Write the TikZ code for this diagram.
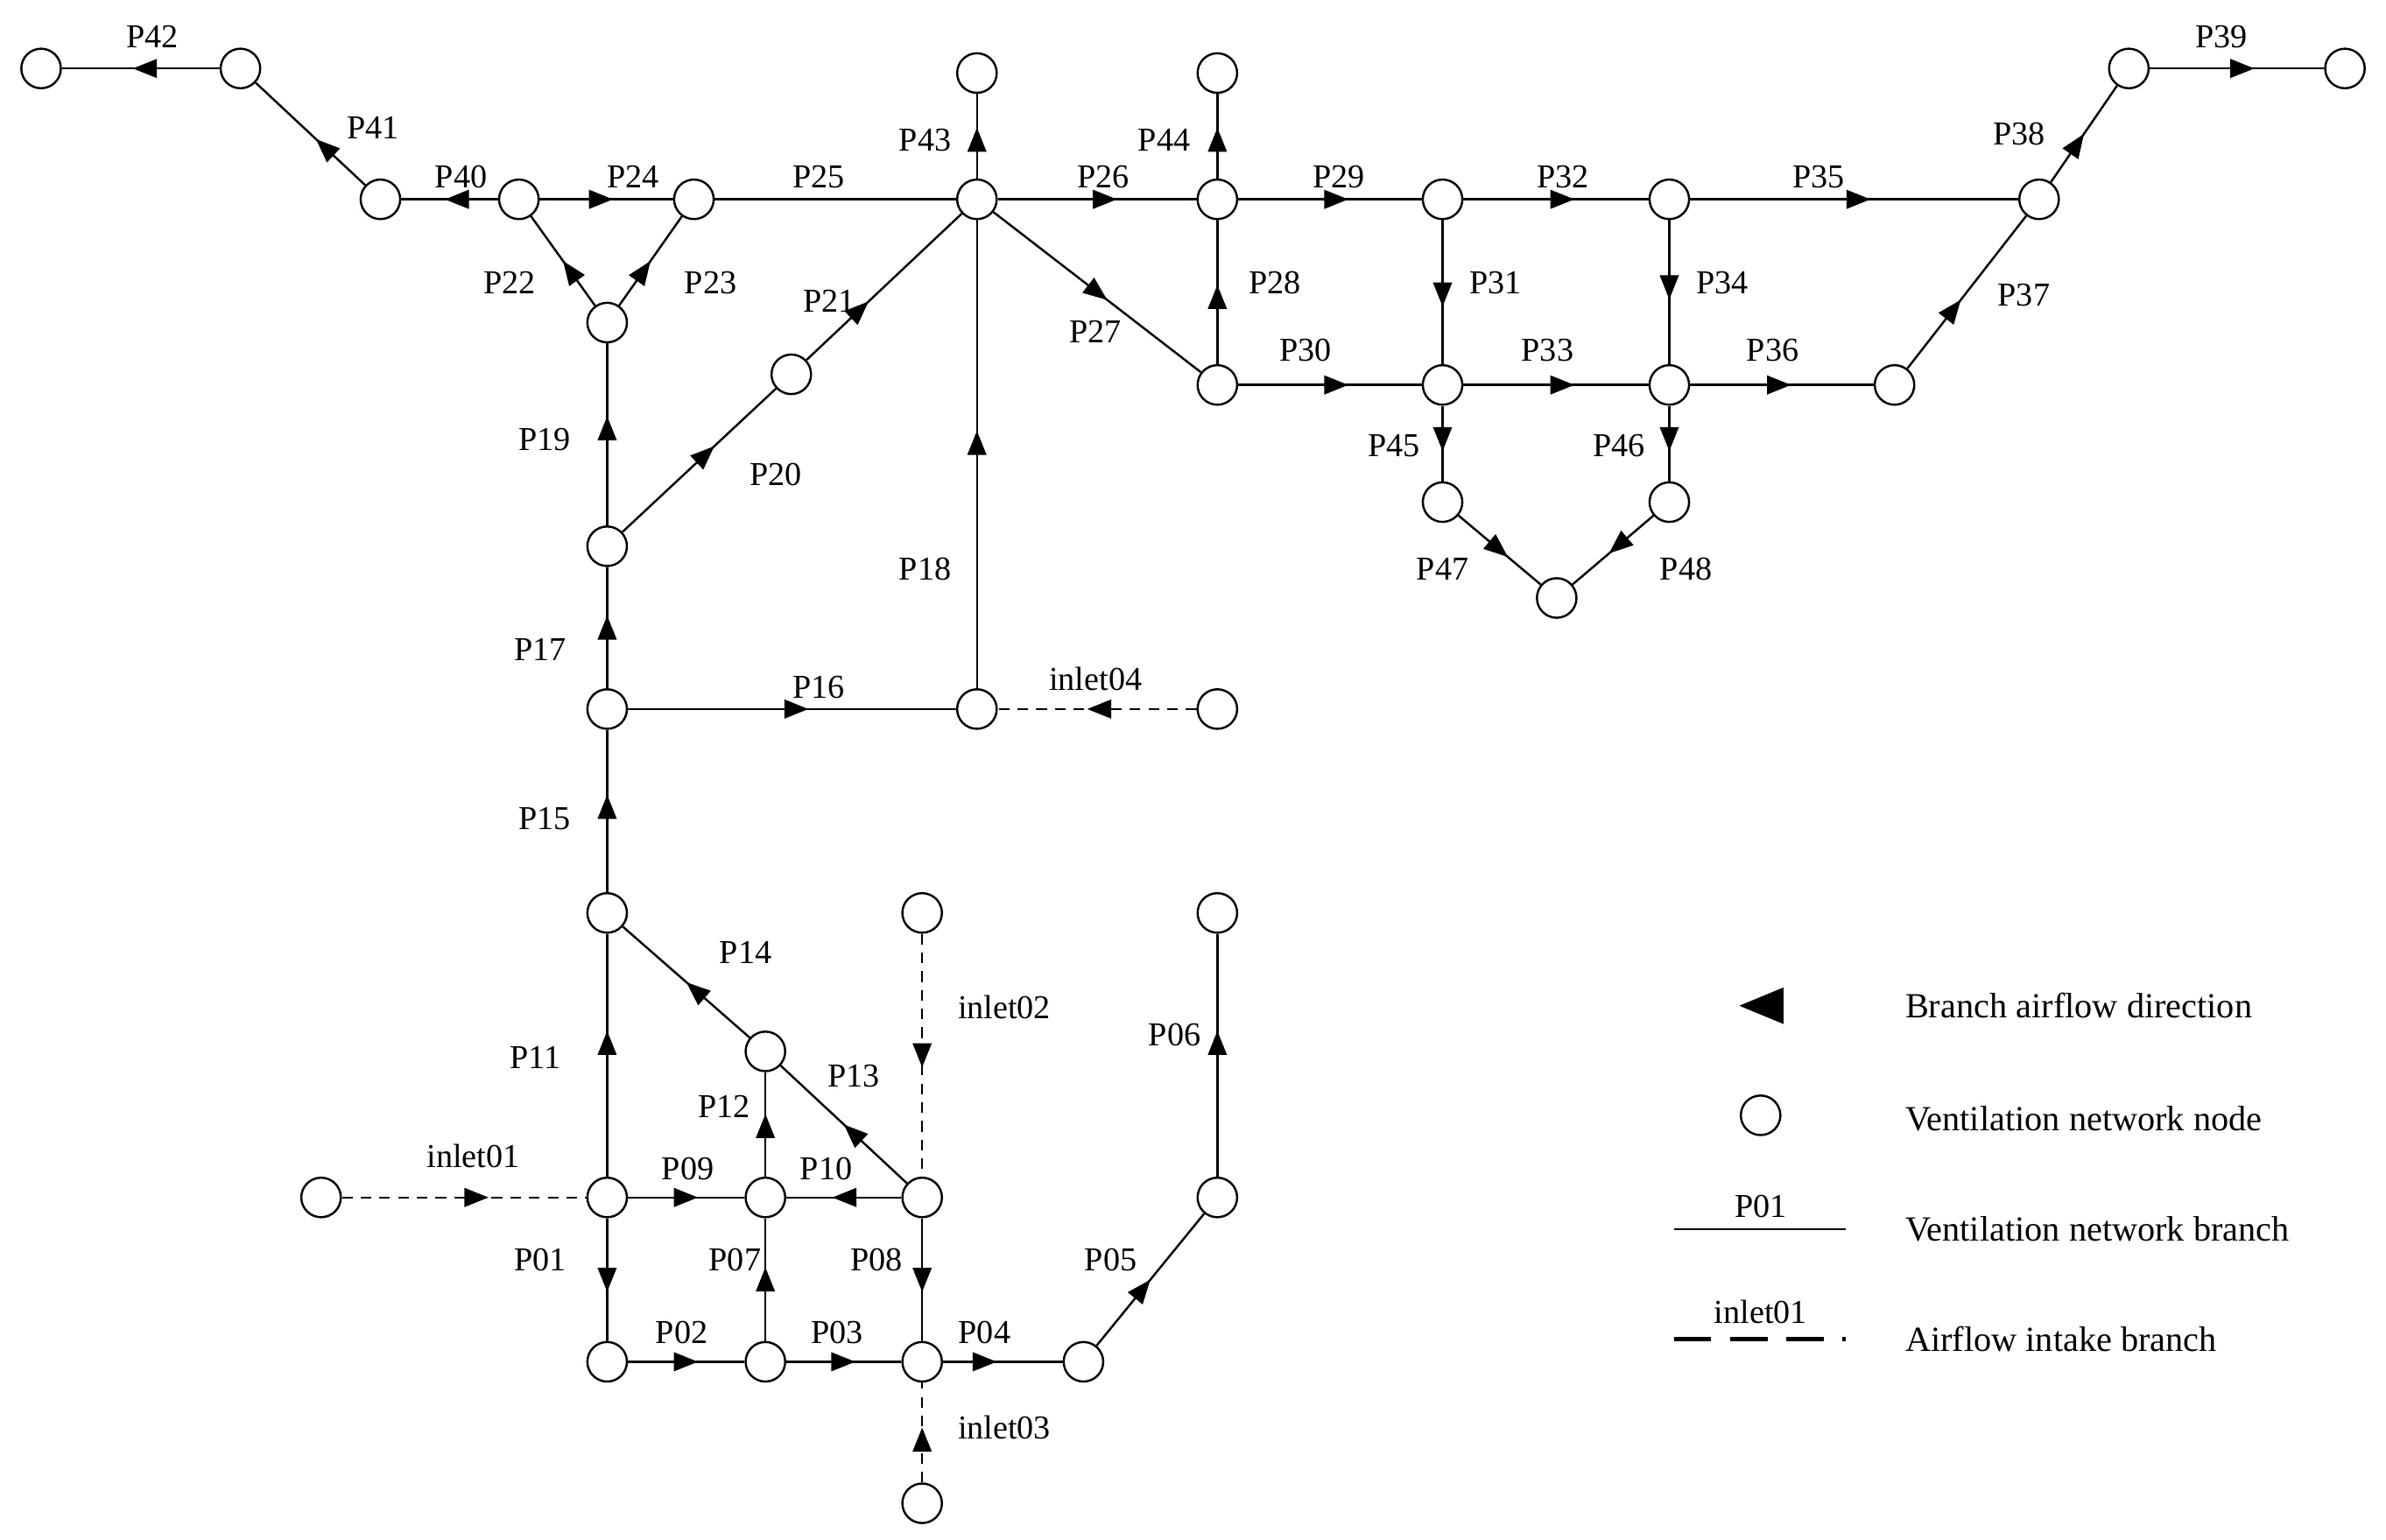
\documentclass[tikz,border=0pt]{standalone}
\usepackage{fontspec}
\setmainfont{Liberation Serif}
\usetikzlibrary{arrows.meta,decorations.markings}
\begin{document}
\begin{tikzpicture}[x=0.02cm,y=-0.02cm,font=\fontsize{12.5}{14}\selectfont,
 nd/.style={circle,draw,line width=0.8pt,minimum size=0.52cm,inner sep=0pt,fill=white},
 ed/.style={line width=0.8pt},
 dd/.style={line width=0.8pt,dash pattern=on 4pt off 3pt},
 ar/.style={postaction={decorate,decoration={markings,mark=at position #1 with {\arrow{Triangle[length=9pt,width=7pt]}}}}},
 lb/.style={inner sep=1pt},
 lg/.style={anchor=west,inner sep=1pt,font=\fontsize{13.2}{15}\selectfont}]
\useasboundingbox (0,0) rectangle (1568,1012);
\foreach \n/\x/\y in {a42/27/45,b42/158/45,n41/250/131,n40/341/131,n24/456/131,nC/642/131,n43/642/48,n44/800/48,n26/800/131,n29/948/131,n32/1097/131,n38/1340/131,a39/1399/45,b39/1541/45,n22/399/212,n21/520/246,n27/800/253,n30/948/253,n33/1097/253,n36/1245/253,n45/948/330,n46/1097/330,n47/1023/393,n19/399/359,n16a/399/466,n16b/642/466,i04/800/466,n15/399/600,i02/606/600,n06/800/600,n14/503/691,i01/211/787,n09/399/787,n10/503/787,n13/606/787,n05/800/787,n01/399/895,n02/503/895,n03/606/895,n04/712/895,i03/606/988}
 \node[nd] (\n) at (\x,\y) {};
\foreach \a/\b/\p in {b42/a42/0.55,n41/b42/0.45,n40/n41/0.55,n40/n24/0.55,n22/n40/0.5,n22/n24/0.5,nC/n43/0.6,nC/n26/0.6,n26/n44/0.6,n27/n26/0.55,nC/n27/0.55,n26/n29/0.6,n29/n32/0.6,n32/n38/0.55,n38/a39/0.5,a39/b39/0.6,n36/n38/0.45,n29/n30/0.6,n32/n33/0.55,n27/n30/0.6,n30/n33/0.6,n33/n36/0.55,n30/n45/0.6,n33/n46/0.6,n45/n47/0.6,n46/n47/0.55,n21/nC/0.4,n19/n21/0.6,n19/n22/0.6,n16b/nC/0.55,n16a/n19/0.6,n16a/n16b/0.55,n15/n16a/0.6,n14/n15/0.5,n09/n15/0.6,n13/n14/0.5,n10/n14/0.6,n09/n10/0.6,n13/n10/0.6,n09/n01/0.6,n02/n10/0.6,n13/n03/0.6,n01/n02/0.6,n02/n03/0.6,n03/n04/0.45,n04/n05/0.5,n05/n06/0.6}
 \draw[ed,ar=\p] (\a) -- (\b);
\draw[ed] (n24) -- (nC);
\foreach \a/\b/\p in {i04/n16b/0.55,i02/n13/0.55,i01/n09/0.6,i03/n03/0.55}
 \draw[dd,ar=\p] (\a) -- (\b);
\foreach \t/\x/\y in {P42/100/24,P41/245/84,P40/303/116,P24/416/116,P22/335/186,P23/467/186,P25/538/116,P43/608/92,P44/765/92,P26/725/116,P28/838/186,P27/720/218,P29/880/116,P32/1027/116,P35/1195/116,P38/1327/88,P39/1460/24,P37/1330/194,P31/983/186,P34/1132/186,P30/858/230,P33/1017/230,P36/1165/230,P45/916/293,P46/1064/293,P47/948/374,P48/1108/374,P21/545/198,P20/510/312,P19/358/289,P18/608/374,P17/355/427,P16/538/452,inlet04/720/446,P15/358/538,P14/490/626,P11/352/695,P13/561/707,P12/476/727,inlet02/660/662,inlet01/311/760,P09/452/768,P10/543/768,P01/355/828,P07/483/828,P08/576/828,P02/448/876,P03/550/876,P04/647/876,P05/730/828,P06/772/680,inlet03/660/938}
 \node[lb] (l\t) at (\x,\y) {\t};
% legend
\fill (1143,661) -- (1172,649) -- (1172,673) -- cycle;
\node[nd] (gn) at (1157,733) {};
\coordinate (ga) at (1100,808); \coordinate (gb) at (1213,808);
\draw[ed] (ga) -- (gb);
\node[lb] (gp) at (1157,793) {P01};
\coordinate (gc) at (1100,880); \coordinate (gd) at (1213,880);
\draw[line width=1.6pt,dash pattern=on 14pt off 7pt] (gc) -- (gd);
\node[lb] (gi) at (1157,862) {inlet01};
\node[lg] (t1) at (1250,661) {Branch airflow direction};
\node[lg] (t2) at (1250,735) {Ventilation network node};
\node[lg] (t3) at (1250,808) {Ventilation network branch};
\node[lg] (t4) at (1250,880) {Airflow intake branch};
\end{tikzpicture}
\end{document}
